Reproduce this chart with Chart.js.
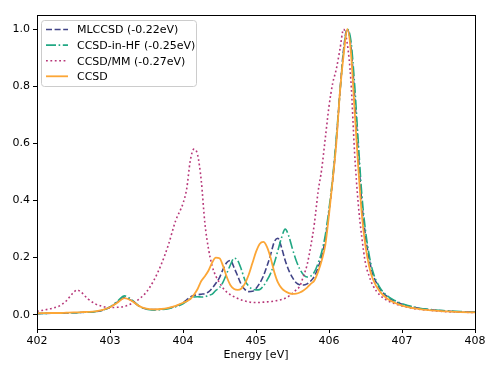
<!DOCTYPE html>
<html>
<head>
<meta charset="utf-8">
<script src="https://cdn.jsdelivr.net/npm/chart.js@4.4.1/dist/chart.umd.min.js"></script>
<style>
  body { margin: 0; background: #fff; }
  canvas { display: block; }
</style>
</head>
<body>
<canvas id="spectrum" width="498" height="374"></canvas>
<script>
// energy grid [eV]
const energy = [
  402.0, 402.2, 402.3, 402.4, 402.5, 402.55, 402.6, 402.7, 402.8, 402.9,
  403.0, 403.1, 403.2, 403.3, 403.4, 403.5, 403.6, 403.7, 403.8, 403.9,
  404.0, 404.05, 404.1, 404.15, 404.2, 404.25, 404.3, 404.35, 404.4, 404.45,
  404.5, 404.55, 404.6, 404.65, 404.7, 404.75, 404.8, 404.85, 404.9, 404.95,
  405.0, 405.05, 405.1, 405.15, 405.2, 405.25, 405.3, 405.35, 405.4, 405.45,
  405.5, 405.55, 405.6, 405.65, 405.7, 405.75, 405.8, 405.85, 405.9, 405.95,
  406.0, 406.05, 406.1, 406.15, 406.2, 406.25, 406.3, 406.35, 406.4, 406.45,
  406.5, 406.55, 406.6, 406.7, 406.8, 406.9, 407.0, 407.2, 407.4, 407.6,
  407.8, 408.0
];

const mlccsd = [
  0.004, 0.005, 0.005, 0.006, 0.007, 0.007, 0.008, 0.009, 0.011, 0.016,
  0.026, 0.044, 0.060, 0.049, 0.030, 0.020, 0.018, 0.019, 0.023, 0.030,
  0.042, 0.052, 0.062, 0.068, 0.070, 0.072, 0.074, 0.080, 0.093, 0.110,
  0.130, 0.160, 0.183, 0.190, 0.165, 0.135, 0.105, 0.088, 0.081, 0.082,
  0.092, 0.110, 0.135, 0.170, 0.210, 0.255, 0.268, 0.235, 0.190, 0.155,
  0.130, 0.112, 0.105, 0.104, 0.108, 0.118, 0.135, 0.165, 0.205, 0.265,
  0.360, 0.470, 0.610, 0.780, 0.930, 1.000, 0.940, 0.770, 0.570, 0.390,
  0.275, 0.195, 0.143, 0.090, 0.063, 0.048, 0.037, 0.024, 0.017, 0.013,
  0.010, 0.009
];

const ccsdInHf = [
  0.004, 0.005, 0.005, 0.006, 0.007, 0.007, 0.008, 0.009, 0.011, 0.016,
  0.027, 0.047, 0.066, 0.052, 0.030, 0.019, 0.017, 0.018, 0.021, 0.028,
  0.038, 0.047, 0.056, 0.062, 0.063, 0.062, 0.063, 0.068, 0.072, 0.085,
  0.095, 0.115, 0.145, 0.175, 0.198, 0.190, 0.158, 0.120, 0.100, 0.090,
  0.087, 0.088, 0.100, 0.120, 0.145, 0.180, 0.225, 0.270, 0.300, 0.275,
  0.230, 0.190, 0.160, 0.140, 0.132, 0.135, 0.150, 0.180, 0.220, 0.280,
  0.370, 0.480, 0.620, 0.780, 0.920, 1.000, 0.960, 0.810, 0.610, 0.420,
  0.295, 0.210, 0.152, 0.094, 0.066, 0.050, 0.039, 0.025, 0.018, 0.014,
  0.011, 0.009
];

const ccsdMm = [
  0.012, 0.022, 0.030, 0.048, 0.078, 0.087, 0.080, 0.055, 0.038, 0.029,
  0.025, 0.026, 0.029, 0.040, 0.055, 0.080, 0.120, 0.175, 0.245, 0.330,
  0.390, 0.440, 0.540, 0.580, 0.560, 0.470, 0.320, 0.230, 0.170, 0.135,
  0.112, 0.093, 0.079, 0.070, 0.063, 0.057, 0.052, 0.048, 0.045, 0.043,
  0.043, 0.043, 0.044, 0.045, 0.046, 0.048, 0.050, 0.053, 0.058, 0.065,
  0.075, 0.087, 0.100, 0.135, 0.175, 0.240, 0.320, 0.430, 0.510, 0.620,
  0.730, 0.810, 0.860, 0.930, 1.000, 0.950, 0.820, 0.570, 0.390, 0.270,
  0.180, 0.135, 0.103, 0.068, 0.050, 0.039, 0.031, 0.020, 0.015, 0.011,
  0.009, 0.008
];

const ccsd = [
  0.005, 0.006, 0.006, 0.007, 0.008, 0.008, 0.009, 0.010, 0.012, 0.017,
  0.026, 0.042, 0.058, 0.048, 0.030, 0.021, 0.019, 0.020, 0.024, 0.031,
  0.042, 0.047, 0.055, 0.070, 0.090, 0.118, 0.135, 0.155, 0.183, 0.200,
  0.198, 0.170, 0.132, 0.103, 0.090, 0.087, 0.092, 0.110, 0.140, 0.180,
  0.220, 0.248, 0.255, 0.238, 0.200, 0.150, 0.113, 0.093, 0.082, 0.076,
  0.073, 0.074, 0.078, 0.085, 0.095, 0.108, 0.120, 0.150, 0.190, 0.245,
  0.350, 0.470, 0.600, 0.780, 0.910, 1.000, 0.920, 0.720, 0.520, 0.350,
  0.240, 0.170, 0.125, 0.080, 0.056, 0.042, 0.032, 0.021, 0.015, 0.012,
  0.009, 0.008
];

const xTicks = [402, 403, 404, 405, 406, 407, 408];
const yTicks = [0.0, 0.2, 0.4, 0.6, 0.8, 1.0];

const toPoints = ys => ys.map((y, i) => ({x: energy[i], y: y}));

Chart.defaults.font.family = '"DejaVu Sans", sans-serif';
Chart.defaults.font.size = 11;
Chart.defaults.color = '#000';

// matplotlib style legend box in the upper left of the axes
const boxLegend = {
  id: 'boxLegend',
  afterDraw(chart) {
    const ctx = chart.ctx;
    const area = chart.chartArea;
    const x = area.left + 4, y = area.top + 5;
    ctx.save();
    ctx.fillStyle = 'rgba(255,255,255,0.8)';
    ctx.strokeStyle = '#cccccc';
    ctx.lineWidth = 1;
    ctx.beginPath();
    ctx.roundRect(x + 0.5, y + 0.5, 155, 66, 3);
    ctx.fill();
    ctx.stroke();
    ctx.font = '11px "DejaVu Sans"';
    ctx.textBaseline = 'middle';
    chart.data.datasets.forEach((ds, i) => {
      const cy = y + 9.5 + i * 15.6;
      ctx.strokeStyle = ds.borderColor;
      ctx.lineWidth = ds.borderWidth;
      ctx.setLineDash(ds.borderDash || []);
      ctx.beginPath();
      ctx.moveTo(x + 5, cy);
      ctx.lineTo(x + 27, cy);
      ctx.stroke();
      ctx.setLineDash([]);
      ctx.fillStyle = '#000';
      ctx.fillText(ds.label, x + 36, cy + 1);
    });
    ctx.restore();
  }
};

// axes frame (top + right spines too)
const frame = {
  id: 'frame',
  afterDatasetsDraw(chart) {
    const ctx = chart.ctx;
    const a = chart.chartArea;
    ctx.save();
    ctx.strokeStyle = '#000';
    ctx.lineWidth = 1;
    ctx.strokeRect(Math.round(a.left) + 0.5, Math.round(a.top) + 0.5,
      Math.round(a.right - a.left), Math.round(a.bottom - a.top));
    ctx.restore();
  }
};

const spectrumChart = new Chart(document.getElementById('spectrum'), {
  type: 'line',
  data: {
    datasets: [
      { label: 'MLCCSD (-0.22eV)', data: toPoints(mlccsd),
        borderColor: '#414487', borderWidth: 1.6, borderDash: [6, 2.6], order: 3 },
      { label: 'CCSD-in-HF (-0.25eV)', data: toPoints(ccsdInHf),
        borderColor: '#22a884', borderWidth: 1.6, borderDash: [10, 2.6, 1.6, 2.6], order: 2 },
      { label: 'CCSD/MM (-0.27eV)', data: toPoints(ccsdMm),
        borderColor: '#b73779', borderWidth: 1.6, borderDash: [1.8, 2.6], order: 1 },
      { label: 'CCSD', data: toPoints(ccsd),
        borderColor: '#fca636', borderWidth: 1.8, order: 0 }
    ]
  },
  options: {
    responsive: false,
    animation: false,
    elements: { point: { radius: 0 }, line: { cubicInterpolationMode: 'monotone', fill: false } },
    layout: { padding: { top: 15, right: 23, left: 0, bottom: 0 } },
    plugins: { legend: { display: false }, tooltip: { enabled: false } },
    scales: {
      x: {
        type: 'linear', min: 402, max: 408,
        afterBuildTicks: s => { s.ticks = xTicks.map(v => ({value: v})); },
        afterFit: s => { s.height = 45; },
        grid: { display: true, drawOnChartArea: false, drawTicks: true, tickLength: 4, color: '#000' },
        border: { display: true, color: '#000' },
        ticks: { padding: 2, maxRotation: 0, callback: v => String(v) },
        title: { display: true, text: 'Energy [eV]', padding: { top: 0, bottom: 12 } }
      },
      y: {
        type: 'linear', min: -0.05, max: 1.05,
        afterBuildTicks: s => { s.ticks = yTicks.map(v => ({value: v})); },
        afterFit: s => { s.width = 37; },
        grid: { display: true, drawOnChartArea: false, drawTicks: true, tickLength: 4, color: '#000' },
        border: { display: true, color: '#000' },
        ticks: { padding: 3, callback: v => v.toFixed(1) }
      }
    }
  },
  plugins: [frame, boxLegend]
});
</script>
</body>
</html>
